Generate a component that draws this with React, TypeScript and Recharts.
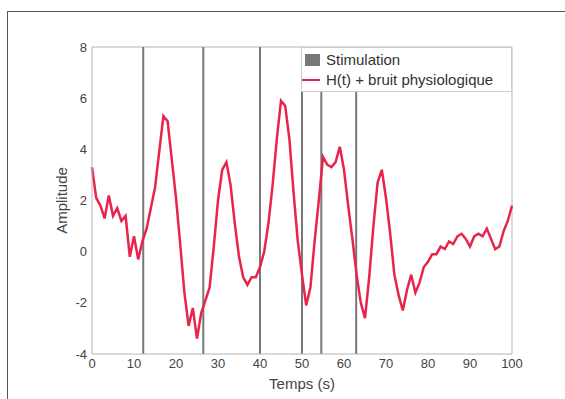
import { LineChart, Line, XAxis, YAxis, ReferenceLine } from 'recharts';

// time in seconds, one sample per second
const times = [
  0, 1, 2, 3, 4, 5, 6, 7, 8, 9, 10, 11, 12, 13, 14, 15, 16, 17, 18, 19, 20,
  21, 22, 23, 24, 25, 26, 27, 28, 29, 30, 31, 32, 33, 34, 35, 36, 37, 38, 39, 40,
  41, 42, 43, 44, 45, 46, 47, 48, 49, 50, 51, 52, 53, 54, 55, 56, 57, 58, 59, 60,
  61, 62, 63, 64, 65, 66, 67, 68, 69, 70, 71, 72, 73, 74, 75, 76, 77, 78, 79, 80,
  81, 82, 83, 84, 85, 86, 87, 88, 89, 90, 91, 92, 93, 94, 95, 96, 97, 98, 99, 100,
];

// H(t) + bruit physiologique
const amplitude = [
  3.3, 2.1, 1.8, 1.3, 2.2, 1.4, 1.7, 1.2, 1.4, -0.2, 0.6, -0.3, 0.4, 0.9, 1.7, 2.5, 3.9, 5.3, 5.1, 3.6, 2.1,
  0.3, -1.6, -2.9, -2.2, -3.4, -2.4, -1.9, -1.4, 0.2, 2.0, 3.2, 3.5, 2.6, 1.1, -0.2, -1.0, -1.3, -1.0, -1.0, -0.6,
  0.0, 1.1, 2.6, 4.4, 5.9, 5.7, 4.4, 2.3, 0.4, -0.9, -2.1, -1.4, 0.4, 2.0, 3.7, 3.4, 3.3, 3.5, 4.1, 3.2,
  1.8, 0.5, -0.9, -2.0, -2.6, -1.0, 1.0, 2.7, 3.2, 2.1, 0.7, -0.9, -1.7, -2.3, -1.5, -0.9, -1.6, -1.2, -0.6, -0.4,
  -0.1, -0.1, 0.2, 0.1, 0.4, 0.3, 0.6, 0.7, 0.5, 0.2, 0.6, 0.7, 0.6, 0.9, 0.5, 0.1, 0.2, 0.8, 1.2, 1.8,
];

const stimTimes = [12.2, 26.5, 40.0, 50.0, 54.6, 62.9];

const xTicks = [0, 10, 20, 30, 40, 50, 60, 70, 80, 90, 100];
const yTicks = [-4, -2, 0, 2, 4, 6, 8];

const data = times.map((t, i) => ({ t, y: amplitude[i] }));

const FONT = '"Liberation Sans", Arial, sans-serif';
const RED = '#e8244c';
const AXIS = '#b5b5b5';

export default function App() {
  return (
    <div style={{ position: 'fixed', left: 0, top: 0, width: 565, height: 399, background: '#fff', fontFamily: FONT }}>
      <div style={{ position: 'absolute', left: 7, top: 11, right: 0, bottom: 0, borderTop: '1px solid #555', borderLeft: '1px solid #555' }} />
      <LineChart width={565} height={399} data={data} margin={{ top: 47, right: 53, bottom: 25, left: 32 }}>
        <XAxis
          dataKey="t"
          type="number"
          domain={[0, 100]}
          ticks={xTicks}
          tick={{ fill: '#444', fontSize: 13, fontFamily: FONT }}
          tickLine={false}
          tickSize={0}
          tickMargin={5}
          height={20}
          axisLine={{ stroke: AXIS }}
          label={{ value: 'Temps (s)', position: 'bottom', offset: 4, fill: '#444', fontSize: 15, fontFamily: FONT }}
        />
        <YAxis
          type="number"
          domain={[-4, 8]}
          ticks={yTicks}
          width={60}
          tick={{ fill: '#444', fontSize: 13, fontFamily: FONT }}
          tickLine={false}
          tickSize={0}
          tickMargin={5}
          axisLine={{ stroke: AXIS }}
          label={{ value: 'Amplitude', angle: -90, position: 'center', fill: '#444', fontSize: 15, fontFamily: FONT }}
        />
        <ReferenceLine y={8} stroke={AXIS} />
        <ReferenceLine x={100} stroke={AXIS} />
        {stimTimes.map((s) => (
          <ReferenceLine key={s} x={s} stroke="#777" strokeWidth={2} />
        ))}
        <Line
          type="linear"
          dataKey="y"
          stroke={RED}
          strokeWidth={2.5}
          dot={false}
          isAnimationActive={false}
        />
      </LineChart>
      <div
        style={{
          position: 'absolute',
          left: 301,
          top: 47,
          width: 211,
          height: 45,
          boxSizing: 'border-box',
          border: '1px solid #ccc',
          background: '#fff',
          color: '#333',
          fontSize: 15,
          lineHeight: '20px',
          paddingTop: 2,
        }}
      >
        <div style={{ display: 'flex', alignItems: 'center' }}>
          <span style={{ display: 'inline-block', width: 15, height: 12, background: '#777', marginLeft: 3, marginRight: 6 }} />
          <span>Stimulation</span>
        </div>
        <div style={{ display: 'flex', alignItems: 'center' }}>
          <span style={{ display: 'inline-block', width: 18, height: 2, background: RED, marginLeft: 0, marginRight: 6 }} />
          <span>H(t) + bruit physiologique</span>
        </div>
      </div>
    </div>
  );
}
